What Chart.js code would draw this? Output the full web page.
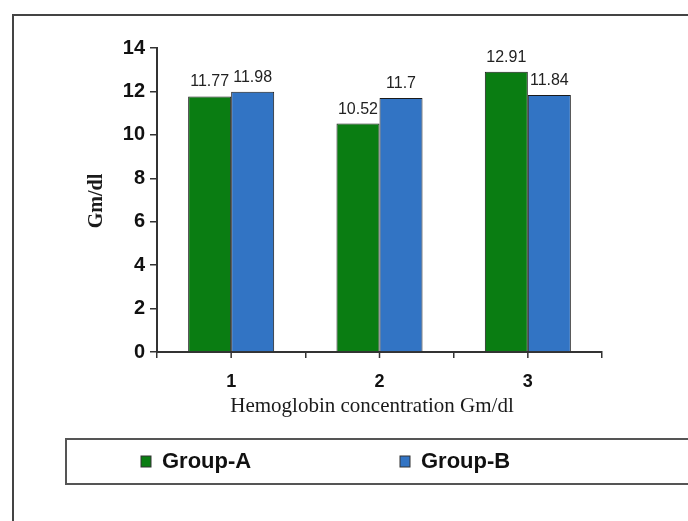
<!DOCTYPE html>
<html>
<head>
    <title>Hemoglobin concentration</title>
    <script src="https://cdn.jsdelivr.net/npm/chart.js"></script>
    <style>
        body { margin: 0; background: #fff; }
        #wrap { width: 688px; height: 521px; }
    </style>
</head>
<body>
    <div id="wrap"><canvas id="hbChart" width="688" height="521"></canvas></div>
    <script>
        // values
        const categories = ['1', '2', '3'];
        const groupA = [11.77, 10.52, 12.91];
        const groupB = [11.98, 11.7, 11.84];
        const seriesNames = ['Group-A', 'Group-B'];
        const yTicks = [0, 2, 4, 6, 8, 10, 12, 14];

        const green = '#0a7d12';
        const blue = '#3274c4';

        // frame, value labels, titles, legend box, centre ticks
        const extras = {
            id: 'extras',
            afterDraw(chart) {
                const ctx = chart.ctx;
                const x = chart.scales.x, y = chart.scales.y;
                ctx.save();

                // outer frame
                ctx.strokeStyle = '#444';
                ctx.lineWidth = 2;
                ctx.beginPath();
                ctx.moveTo(13, 521);
                ctx.lineTo(13, 15);
                ctx.lineTo(688, 15);
                ctx.stroke();

                // tick marks at the centre of each category
                ctx.strokeStyle = '#333';
                ctx.lineWidth = 1.5;
                categories.forEach((c, i) => {
                    const px = x.getPixelForValue(i);
                    ctx.beginPath();
                    ctx.moveTo(px, y.bottom);
                    ctx.lineTo(px, y.bottom + 6);
                    ctx.stroke();
                });

                // value labels above bars
                ctx.fillStyle = '#222';
                ctx.font = '16px "Liberation Sans", Arial, sans-serif';
                ctx.textAlign = 'center';
                ctx.textBaseline = 'alphabetic';
                chart.data.datasets.forEach((ds, di) => {
                    chart.getDatasetMeta(di).data.forEach((bar, i) => {
                        ctx.fillText(String(ds.data[i]), bar.x, bar.y - 10);
                    });
                });

                // axis titles
                ctx.fillStyle = '#1a1a1a';
                ctx.font = 'bold 20px "Liberation Serif", "Times New Roman", serif';
                ctx.textBaseline = 'middle';
                ctx.save();
                ctx.translate(97, 201);
                ctx.rotate(-Math.PI / 2);
                ctx.fillText('Gm/dl', 0, 0);
                ctx.restore();
                ctx.font = '21px "Liberation Serif", "Times New Roman", serif';
                ctx.fillText('Hemoglobin concentration Gm/dl', 372, 406);

                // legend box
                ctx.strokeStyle = '#555';
                ctx.lineWidth = 2;
                ctx.beginPath();
                ctx.moveTo(688, 439);
                ctx.lineTo(66, 439);
                ctx.lineTo(66, 484);
                ctx.lineTo(688, 484);
                ctx.stroke();

                const legendX = [141, 400];
                ctx.font = 'bold 22px "Liberation Sans", Arial, sans-serif';
                ctx.textAlign = 'left';
                chart.data.datasets.forEach((ds, di) => {
                    const lx = legendX[di];
                    ctx.fillStyle = ds.backgroundColor;
                    ctx.fillRect(lx, 456, 10, 11);
                    ctx.strokeStyle = '#333';
                    ctx.lineWidth = 1;
                    ctx.strokeRect(lx, 456, 10, 11);
                    ctx.fillStyle = '#111';
                    ctx.fillText(ds.label, lx + 21, 462);
                });

                ctx.restore();
            }
        };

        new Chart(document.getElementById('hbChart'), {
            type: 'bar',
            data: {
                labels: categories,
                datasets: [
                    { label: seriesNames[0], data: groupA, backgroundColor: green, borderColor: '#1a1a1a', borderWidth: 1 },
                    { label: seriesNames[1], data: groupB, backgroundColor: blue, borderColor: '#1a1a1a', borderWidth: 1 }
                ]
            },
            options: {
                responsive: false,
                animation: false,
                layout: { padding: { left: 0, right: 86, top: 48, bottom: 0 } },
                plugins: { legend: { display: false }, tooltip: { enabled: false } },
                datasets: { bar: { categoryPercentage: 0.58, barPercentage: 1.0 } },
                scales: {
                    x: {
                        grid: { offset: true, drawOnChartArea: false, drawTicks: true, tickLength: 6, color: '#333', lineWidth: 1.5 },
                        border: { color: '#333', width: 2 },
                        ticks: { color: '#111', font: { family: '"Liberation Sans", Arial, sans-serif', size: 18, weight: 'bold' }, padding: 13 },
                        afterFit(scale) { scale.height = 169; }
                    },
                    y: {
                        min: 0,
                        max: 14,
                        afterBuildTicks(scale) { scale.ticks = yTicks.map(v => ({ value: v })); },
                        grid: { drawOnChartArea: false, drawTicks: true, tickLength: 7, color: '#333', lineWidth: 1.5 },
                        border: { color: '#333', width: 2 },
                        ticks: { color: '#111', font: { family: '"Liberation Sans", Arial, sans-serif', size: 20, weight: 'bold' }, padding: 5 },
                        afterFit(scale) { scale.width = 157; }
                    }
                }
            },
            plugins: [extras]
        });
    </script>
</body>
</html>
